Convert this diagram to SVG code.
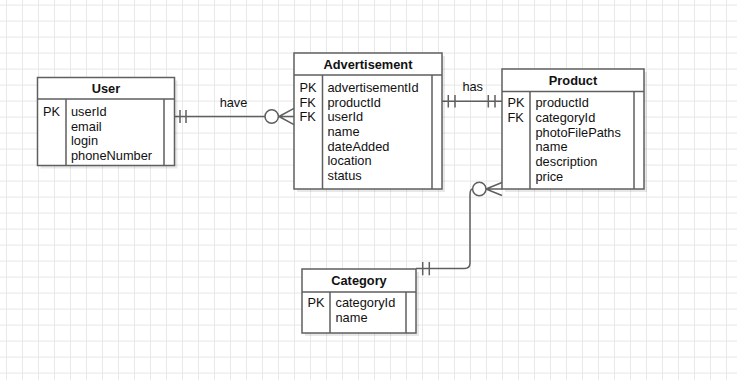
<svg xmlns="http://www.w3.org/2000/svg" width="737" height="380" viewBox="0 0 737 380">
  <defs>
    <pattern id="grid" x="6" y="4.6" width="16" height="16" patternUnits="userSpaceOnUse">
      <path d="M0 0 H16 M0 0 V16" fill="none" stroke="#e7e7e7" stroke-width="1.8"/>
    </pattern>
    <style>
      .tbl { fill: #ffffff; stroke: #5f5f5f; stroke-width: 1.5; }
      .shadow { fill: #000000; opacity: 0.09; }
      .sep { stroke: #5f5f5f; stroke-width: 1.5; fill: none; }
      .title { font-family: "Liberation Sans", Arial, sans-serif; font-size: 12.8px; font-weight: bold; fill: #111111; text-anchor: middle; }
      .txt { font-family: "Liberation Sans", Arial, sans-serif; font-size: 12.8px; fill: #111111; }
      .edge { stroke: #5f5f5f; stroke-width: 1.5; fill: none; }
      .ring { stroke: #5f5f5f; stroke-width: 1.5; fill: #ffffff; }
    </style>
  </defs>

  <!-- background grid -->
  <rect width="737" height="380" fill="#ffffff"/>
  <rect width="737" height="380" fill="url(#grid)"/>

  <!-- connectors -->
  <g id="connectors">
    <!-- User ||—o< Advertisement -->
    <g id="edge-user-ad">
      <path class="edge" d="M174.5 116.5 H265 M279 116.5 H294 M279 116.5 L294 108.3 M279 116.5 L294 124.7 M180 110 V123 M186 110 V123"/>
      <circle class="ring" cx="271.7" cy="116.5" r="6.7"/>
      <text class="txt" x="233.5" y="106.5" text-anchor="middle">have</text>
    </g>
    <!-- Advertisement ||—|| Product -->
    <g id="edge-ad-product">
      <path class="edge" d="M442 101.3 H502 M448.3 95 V107.5 M455 95 V107.5 M488.3 95 V107.5 M495 95 V107.5"/>
      <text class="txt" x="472.7" y="90.5" text-anchor="middle">has</text>
    </g>
    <!-- Product >o—|| Category -->
    <g id="edge-product-category">
      <path class="edge" d="M486 189 H502 M486 189 L502 182.5 M486 189 L502 195.5 M472.6 189 Q470 189 470 195 V263 Q470 268.5 464.5 268.5 H416 M422.7 262 V275.3 M429.3 262 V275.3"/>
      <circle class="ring" cx="479.3" cy="189" r="6.7"/>
    </g>
  </g>

  <!-- User table -->
  <g id="user">
    <rect class="shadow" x="40.5" y="80.5" width="137" height="88"/>
    <rect class="tbl" x="37.5" y="77.5" width="137" height="88"/>
    <path class="sep" d="M37.5 99 H174.5 M66 99 V165.5 M164 99 V165.5"/>
    <text class="title" x="106" y="92.5">User</text>
    <text class="txt" x="43" y="116.2">PK</text>
    <text class="txt" x="71" y="116.2">userId</text>
    <text class="txt" x="71" y="130.8">email</text>
    <text class="txt" x="71" y="145.4">login</text>
    <text class="txt" x="71" y="160">phoneNumber</text>
  </g>

  <!-- Advertisement table -->
  <g id="advertisement">
    <rect class="shadow" x="297" y="56" width="148" height="136"/>
    <rect class="tbl" x="294" y="53" width="148" height="136"/>
    <path class="sep" d="M294 75 H442 M322.5 75 V189 M432 75 V189"/>
    <text class="title" x="368" y="68.5">Advertisement</text>
    <text class="txt" x="299.5" y="91.8">PK</text>
    <text class="txt" x="299.5" y="106.5">FK</text>
    <text class="txt" x="299.5" y="121.2">FK</text>
    <text class="txt" x="327.5" y="91.8">advertisementId</text>
    <text class="txt" x="327.5" y="106.5">productId</text>
    <text class="txt" x="327.5" y="121.2">userId</text>
    <text class="txt" x="327.5" y="135.9">name</text>
    <text class="txt" x="327.5" y="150.6">dateAdded</text>
    <text class="txt" x="327.5" y="165.3">location</text>
    <text class="txt" x="327.5" y="180">status</text>
  </g>

  <!-- Product table -->
  <g id="product">
    <rect class="shadow" x="505" y="72" width="142" height="120"/>
    <rect class="tbl" x="502" y="69" width="142" height="120"/>
    <path class="sep" d="M502 91.5 H644 M530 91.5 V189 M634 91.5 V189"/>
    <text class="title" x="573" y="84.5">Product</text>
    <text class="txt" x="507.5" y="107.2">PK</text>
    <text class="txt" x="507.5" y="121.9">FK</text>
    <text class="txt" x="535.5" y="107.2">productId</text>
    <text class="txt" x="535.5" y="121.9">categoryId</text>
    <text class="txt" x="535.5" y="136.6">photoFilePaths</text>
    <text class="txt" x="535.5" y="151.3">name</text>
    <text class="txt" x="535.5" y="166">description</text>
    <text class="txt" x="535.5" y="180.7">price</text>
  </g>

  <!-- Category table -->
  <g id="category">
    <rect class="shadow" x="305" y="272" width="114" height="64"/>
    <rect class="tbl" x="302" y="269" width="114" height="64"/>
    <path class="sep" d="M302 292 H416 M330 292 V333 M406 292 V333"/>
    <text class="title" x="359" y="284.5">Category</text>
    <text class="txt" x="307.5" y="307.2">PK</text>
    <text class="txt" x="335.5" y="307.2">categoryId</text>
    <text class="txt" x="335.5" y="321.6">name</text>
  </g>
</svg>
